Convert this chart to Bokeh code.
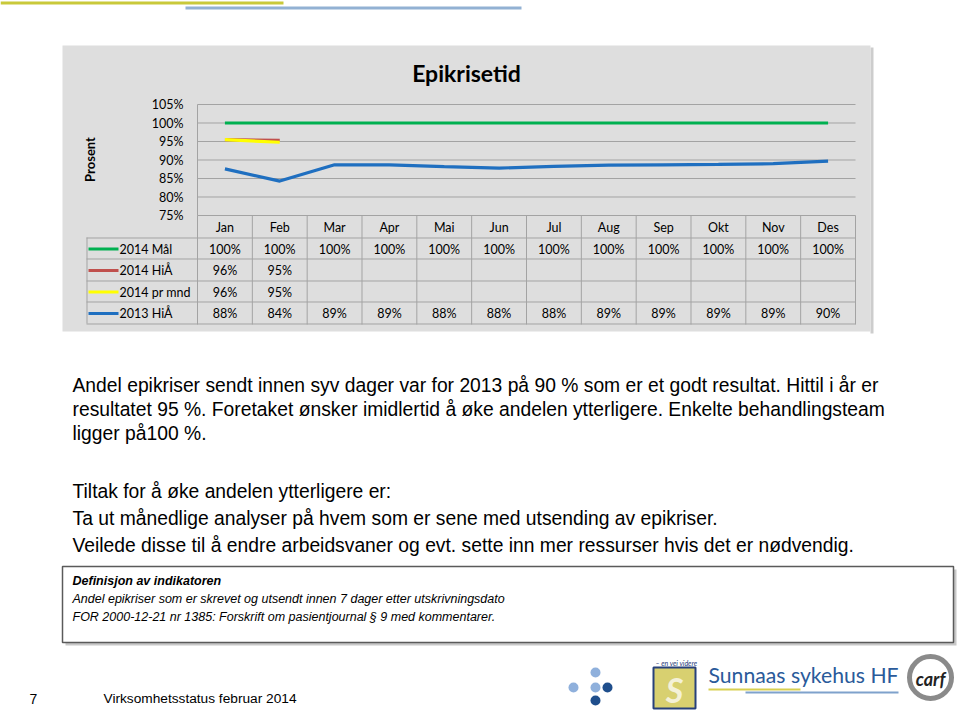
import math
from bokeh.plotting import figure
from bokeh.models import Range1d
from bokeh.core.properties import value
from bokeh.embed import file_html
from bokeh.resources import INLINE

# ---------------- data ----------------
months = ["Jan", "Feb", "Mar", "Apr", "Mai", "Jun", "Jul", "Aug", "Sep", "Okt", "Nov", "Des"]
maal_2014 = [100, 100, 100, 100, 100, 100, 100, 100, 100, 100, 100, 100]
hia_2014 = [95.5, 95.3]
prmnd_2014 = [95.5, 94.8]
hia_2013 = [87.6, 84.3, 88.7, 88.7, 88.2, 87.8, 88.3, 88.6, 88.7, 88.8, 89.0, 89.7]
y_ticks = [75, 80, 85, 90, 95, 100, 105]
series_names = ["2014 Mål", "2014 HiÅ", "2014 pr mnd", "2013 HiÅ"]
series_values = [maal_2014, hia_2014, prmnd_2014, hia_2013]
series_colors = ["#00b050", "#c0504d", "#ffff00", "#1f6fc0"]

title_text = "Epikrisetid"
y_label = "Prosent"
body_lines = [
    "Andel epikriser sendt innen syv dager var for 2013 på 90 % som er et godt resultat. Hittil i år er",
    "resultatet 95 %. Foretaket ønsker imidlertid å øke andelen ytterligere. Enkelte behandlingsteam",
    "ligger på100 %.",
]
tiltak_lines = [
    "Tiltak for å øke andelen ytterligere er:",
    "Ta ut månedlige analyser på hvem som er sene med utsending av epikriser.",
    "Veilede disse til å endre arbeidsvaner og evt. sette inn mer ressurser hvis det er nødvendig.",
]
def_title = "Definisjon av indikatoren"
def_lines = [
    "Andel epikriser som er skrevet og utsendt innen 7 dager etter utskrivningsdato",
    "FOR 2000-12-21 nr 1385: Forskrift om pasientjournal § 9 med kommentarer.",
]
footer_page = "7"
footer_text = "Virksomhetsstatus februar 2014"

# ---------------- layout constants (page pixels) ----------------
W, H = 960, 710
FL, FR, FT, FB = 197, 855, 104, 215          # chart plot area
PCT_LO, PCT_HI = y_ticks[0], y_ticks[-1]
PANEL = "#dedede"
GRID = "#a3a3a3"
CH_FONT = "Lato"
BODY_FONT = "Liberation Sans"
CH_SIZE = "12.5px"

col_w = (FR - FL) / len(months)
k = (FB - FT) / (PCT_HI - PCT_LO)
mon_range = Range1d(-FL / col_w - 0.5, (W - FL) / col_w - 0.5)
pct_range = Range1d(PCT_LO - (H - FB) / k, PCT_HI + FT / k)

p = figure(width=W, height=H, x_range=Range1d(0, W), y_range=Range1d(H, 0),
           x_axis_type=None, y_axis_type=None, title=None,
           output_backend="svg", toolbar_location=None, tools="", min_border=0)
p.extra_x_ranges = {"mon": mon_range}
p.extra_y_ranges = {"pct": pct_range}
p.outline_line_color = None
p.border_fill_color = "white"
p.background_fill_color = "white"


def rect(l, t, r, b, fill, line=None, lw=1, xr="default", yr="default"):
    p.quad(left=[l], right=[r], top=[t], bottom=[b], fill_color=fill,
           line_color=line, line_width=lw, x_range_name=xr, y_range_name=yr)


def txt(x, y, s, size, font=CH_FONT, style="normal", color="#000000", align="left",
        baseline="middle", angle=0.0, xr="default", yr="default"):
    p.text(x=[x], y=[y], text=[s], text_font=value(font), text_font_size=f"{size}px",
           text_font_style=style, text_color=color, text_align=align,
           text_baseline=baseline, angle=angle, x_range_name=xr, y_range_name=yr)


# top decorative lines
rect(0, 1, 283, 4, "#c9c93a")
rect(185, 6, 521, 9, "#92b1d3")

# chart panel
PL, PT, PR, PB = 62, 45, 870, 331
rect(PR, PT + 2, PR + 3, PB + 2, "#cdcdcd")
rect(PL, PT, PR, PB, PANEL)

# gridlines (through the chart scales)
n = len(months)
p.segment(x0=[-0.5] * len(y_ticks), x1=[n - 0.5] * len(y_ticks), y0=y_ticks, y1=y_ticks,
          line_color=GRID, line_width=1, x_range_name="mon", y_range_name="pct")
# axis line
p.segment(x0=[-0.5], x1=[-0.5], y0=[PCT_LO], y1=[PCT_HI], line_color=GRID, line_width=1,
          x_range_name="mon", y_range_name="pct")
# tick labels
p.text(x=[FL - 14] * len(y_ticks), y=y_ticks, text=[f"{t}%" for t in y_ticks],
       text_font=value(CH_FONT), text_font_size=CH_SIZE, text_align="right",
       text_baseline="middle", text_color="#000000", y_range_name="pct")

# series lines
idx = list(range(n))
for i in [3, 0, 1, 2]:
    vals = series_values[i]
    p.line(x=idx[:len(vals)], y=vals, line_color=series_colors[i], line_width=3.2,
           x_range_name="mon", y_range_name="pct")

# chart title and axis label
txt(466, 72, title_text, 23, style="bold", align="center")
txt(89, 159, y_label, 13, style="bold", align="center", angle=math.pi / 2)

# data table
row_edges = [FB, 237, 258, 280, 301, 323]
TL = 86
for y in row_edges[1:]:
    p.segment(x0=[TL], x1=[FR], y0=[y + 0.5], y1=[y + 0.5], line_color=GRID, line_width=1)
p.segment(x0=[TL + 0.5], x1=[TL + 0.5], y0=[row_edges[1]], y1=[row_edges[-1]], line_color=GRID)
p.segment(x0=[i - 0.5 for i in range(n + 1)], x1=[i - 0.5 for i in range(n + 1)],
          y0=[row_edges[0]] * (n + 1), y1=[row_edges[-1] + 1] * (n + 1),
          line_color=GRID, line_width=1, x_range_name="mon")
# header row (month names)
p.text(x=idx, y=[(row_edges[0] + row_edges[1]) / 2 + 1] * n, text=months,
       text_font=value(CH_FONT), text_font_size=CH_SIZE, text_align="center",
       text_baseline="middle", text_color="#000000", x_range_name="mon")

for r, (name, vals, color) in enumerate(zip(series_names, series_values, series_colors)):
    yc = (row_edges[r + 1] + row_edges[r + 2]) / 2 + 1
    rect(88, yc - 1.5, 118, yc + 1.5, color)
    txt(119, yc, name, 12.5)
    p.text(x=idx[:len(vals)], y=[yc] * len(vals), text=[f"{round(v)}%" for v in vals],
           text_font=value(CH_FONT), text_font_size=CH_SIZE, text_align="center",
           text_baseline="middle", text_color="#000000", x_range_name="mon")

# body text
for j, t in enumerate(body_lines):
    txt(72, 385 + j * 24, t, 19.3, font=BODY_FONT)
for j, t in enumerate(tiltak_lines):
    txt(72, 491 + j * 27, t, 19.3, font=BODY_FONT)

# definition box
rect(65, 569, 956, 645, "#c8c8c8")
rect(62, 566, 953, 642, "white", line="#5a5a5a", lw=1.5)
txt(72, 580, def_title, 12.5, font=BODY_FONT, style="bold italic")
for j, t in enumerate(def_lines):
    txt(72, 598 + j * 18, t, 12.5, font=BODY_FONT, style="italic")

# footer
txt(33, 698, footer_page, 14, font=BODY_FONT, align="center")
txt(103, 698, footer_text, 13.7, font=BODY_FONT)

# logo dots
light, dark = "#8fb0dc", "#1f4e8c"
p.scatter(x=[595, 573, 595, 607, 595], y=[672, 687, 687, 687, 700], size=10,
          fill_color=[light, light, light, dark, dark], line_color=None)

# Sunnaas logo
rect(653, 667, 695, 708, "#d8d070", line="#27407a", lw=2)
txt(674, 689, "S", 34, style="bold italic", color="#f4f1d8", align="center")
txt(655, 662, "– en vei videre", 7, style="italic", color="#27407a")
txt(708, 674, "Sunnaas sykehus HF", 21.2, color="#2a5a9a")
rect(708, 688, 800, 690, "#d8cf50")
rect(745, 691, 898, 693, "#7fa2cc")
# carf logo
p.scatter(x=[930], y=[677], size=42, fill_color=None, line_color="#8a8a8a", line_width=5)
txt(930, 678, "carf", 18, style="bold italic", color="#222222", align="center")

open("out.html", "w").write(file_html(p, INLINE))
